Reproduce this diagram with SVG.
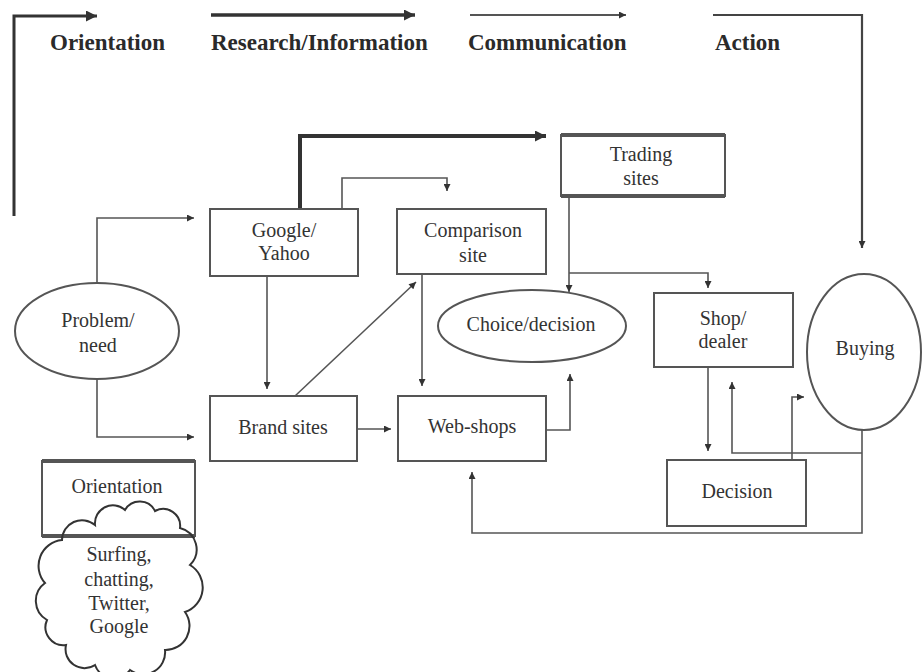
<svg xmlns="http://www.w3.org/2000/svg" width="924" height="672" viewBox="0 0 924 672">
<style>
.hd{font-family:"Liberation Serif","DejaVu Serif","Noto Serif",serif;font-weight:bold;font-size:23px;fill:#2a2a2a}
.t{font-family:"Liberation Serif","DejaVu Serif","Noto Serif",serif;font-size:20px;fill:#333;text-anchor:middle}
.box{fill:#fff;stroke:#555;stroke-width:2}
.edge{fill:none;stroke:#555;stroke-width:1.6}
.thick{fill:none;stroke:#333;stroke-width:4}
.bar{stroke:#555;stroke-width:4}
</style>
<defs>
<marker id="a" viewBox="0 0 10 10" refX="10" refY="5" markerWidth="8" markerHeight="7" markerUnits="userSpaceOnUse" orient="auto"><path d="M0,0 L10,5 L0,10 z" fill="#333"/></marker>
<marker id="b" viewBox="0 0 10 10" refX="10" refY="5" markerWidth="13" markerHeight="11" markerUnits="userSpaceOnUse" orient="auto"><path d="M0,0 L10,5 L0,10 z" fill="#333"/></marker>
</defs>
<rect width="924" height="672" fill="#fff"/>

<g id="header">
<path d="M14,216 V16 H97" fill="none" stroke="#333" stroke-width="3" marker-end="url(#b)"/>
<path d="M211,15 H415" fill="none" stroke="#333" stroke-width="3.5" marker-end="url(#b)"/>
<path d="M470,15 H626" fill="none" stroke="#555" stroke-width="2" marker-end="url(#a)"/>
<path d="M713,15 H862 V248" fill="none" stroke="#444" stroke-width="2.2" marker-end="url(#a)"/>
<text class="hd" x="50" y="50">Orientation</text>
<text class="hd" x="211" y="50">Research/Information</text>
<text class="hd" x="468" y="50">Communication</text>
<text class="hd" x="715" y="50">Action</text>
</g>

<g id="connectors">
<path class="edge" d="M97,283 V218 H194" marker-end="url(#a)"/>
<path class="edge" d="M97,380 V437 H194" marker-end="url(#a)"/>
<path class="edge" d="M267,276 V389" marker-end="url(#a)"/>
<path class="edge" d="M295,396 L416,282" marker-end="url(#a)"/>
<path class="edge" d="M357,429 H391" marker-end="url(#a)"/>
<path class="thick" d="M300,209 V136 H546" marker-end="url(#b)"/>
<path class="edge" d="M342,209 V178 H447 V191" marker-end="url(#a)"/>
<path class="edge" d="M422,274 V386" marker-end="url(#a)"/>
<path class="edge" d="M546,430 H570 V374" marker-end="url(#a)"/>
<path class="edge" d="M569,196 V292" marker-end="url(#a)"/>
<path class="edge" d="M569,273 H708 V288" marker-end="url(#a)"/>
<path class="edge" d="M708,367 V451" marker-end="url(#a)"/>
<path class="edge" d="M862,430 V533 H472 V472" marker-end="url(#a)"/>
<path class="edge" d="M862,453 H732 V382" marker-end="url(#a)"/>
<path class="edge" d="M792,462 V397 H804" marker-end="url(#a)"/>
</g>

<g id="google">
<rect class="box" x="210" y="209" width="148" height="67"/>
<text class="t" x="284" y="237">Google/</text>
<text class="t" x="284" y="260">Yahoo</text>
</g>
<g id="comparison">
<rect class="box" x="397" y="209" width="149" height="65"/>
<text class="t" x="473" y="237">Comparison</text>
<text class="t" x="473" y="262">site</text>
</g>
<g id="trading">
<rect class="box" x="561" y="135" width="164" height="61"/>
<line class="bar" x1="561" y1="135" x2="725" y2="135"/>
<line class="bar" x1="561" y1="196" x2="725" y2="196"/>
<text class="t" x="641" y="161">Trading</text>
<text class="t" x="641" y="185">sites</text>
</g>
<g id="problem">
<ellipse class="box" cx="97" cy="331" rx="82" ry="48"/>
<text class="t" x="98" y="327">Problem/</text>
<text class="t" x="98" y="352">need</text>
</g>
<g id="brand">
<rect class="box" x="210" y="396" width="147" height="65"/>
<text class="t" x="283" y="434">Brand sites</text>
</g>
<g id="webshops">
<rect class="box" x="398" y="396" width="148" height="65"/>
<text class="t" x="472" y="433">Web-shops</text>
</g>
<g id="choice">
<ellipse class="box" cx="532" cy="326" rx="94" ry="36"/>
<text class="t" x="531" y="331">Choice/decision</text>
</g>
<g id="shop">
<rect class="box" x="654" y="293" width="139" height="74"/>
<text class="t" x="723" y="325">Shop/</text>
<text class="t" x="723" y="348">dealer</text>
</g>
<g id="decision">
<rect class="box" x="667" y="460" width="139" height="66"/>
<text class="t" x="737" y="498">Decision</text>
</g>
<g id="buying">
<ellipse class="box" cx="864" cy="352" rx="57" ry="78"/>
<text class="t" x="865" y="355">Buying</text>
</g>
<g id="orientation">
<rect class="box" x="42" y="461" width="153" height="75"/>
<line class="bar" x1="42" y1="461" x2="195" y2="461"/>
<line class="bar" x1="42" y1="536" x2="195" y2="536"/>
<text class="t" x="117" y="493">Orientation</text>
</g>
<g id="cloud">
<path fill="none" stroke="#333" stroke-width="2" d="M45,583 A26,26 0 0 1 62,540 A20,20 0 0 1 95,525 A18,18 0 0 1 125,510 A17,17 0 0 1 155,511 A17,17 0 0 1 180,528 A22,22 0 0 1 190,565 A26,26 0 0 1 185,612 A24,24 0 0 1 165,650 A22,22 0 0 1 130,670 A20,20 0 0 1 95,665 A19,19 0 0 1 66,645 A18,18 0 0 1 47,620 A22,22 0 0 1 45,583 Z"/>
<text class="t" x="119" y="561">Surfing,</text>
<text class="t" x="119" y="586">chatting,</text>
<text class="t" x="119" y="610">Twitter,</text>
<text class="t" x="119" y="633">Google</text>
</g>
</svg>
